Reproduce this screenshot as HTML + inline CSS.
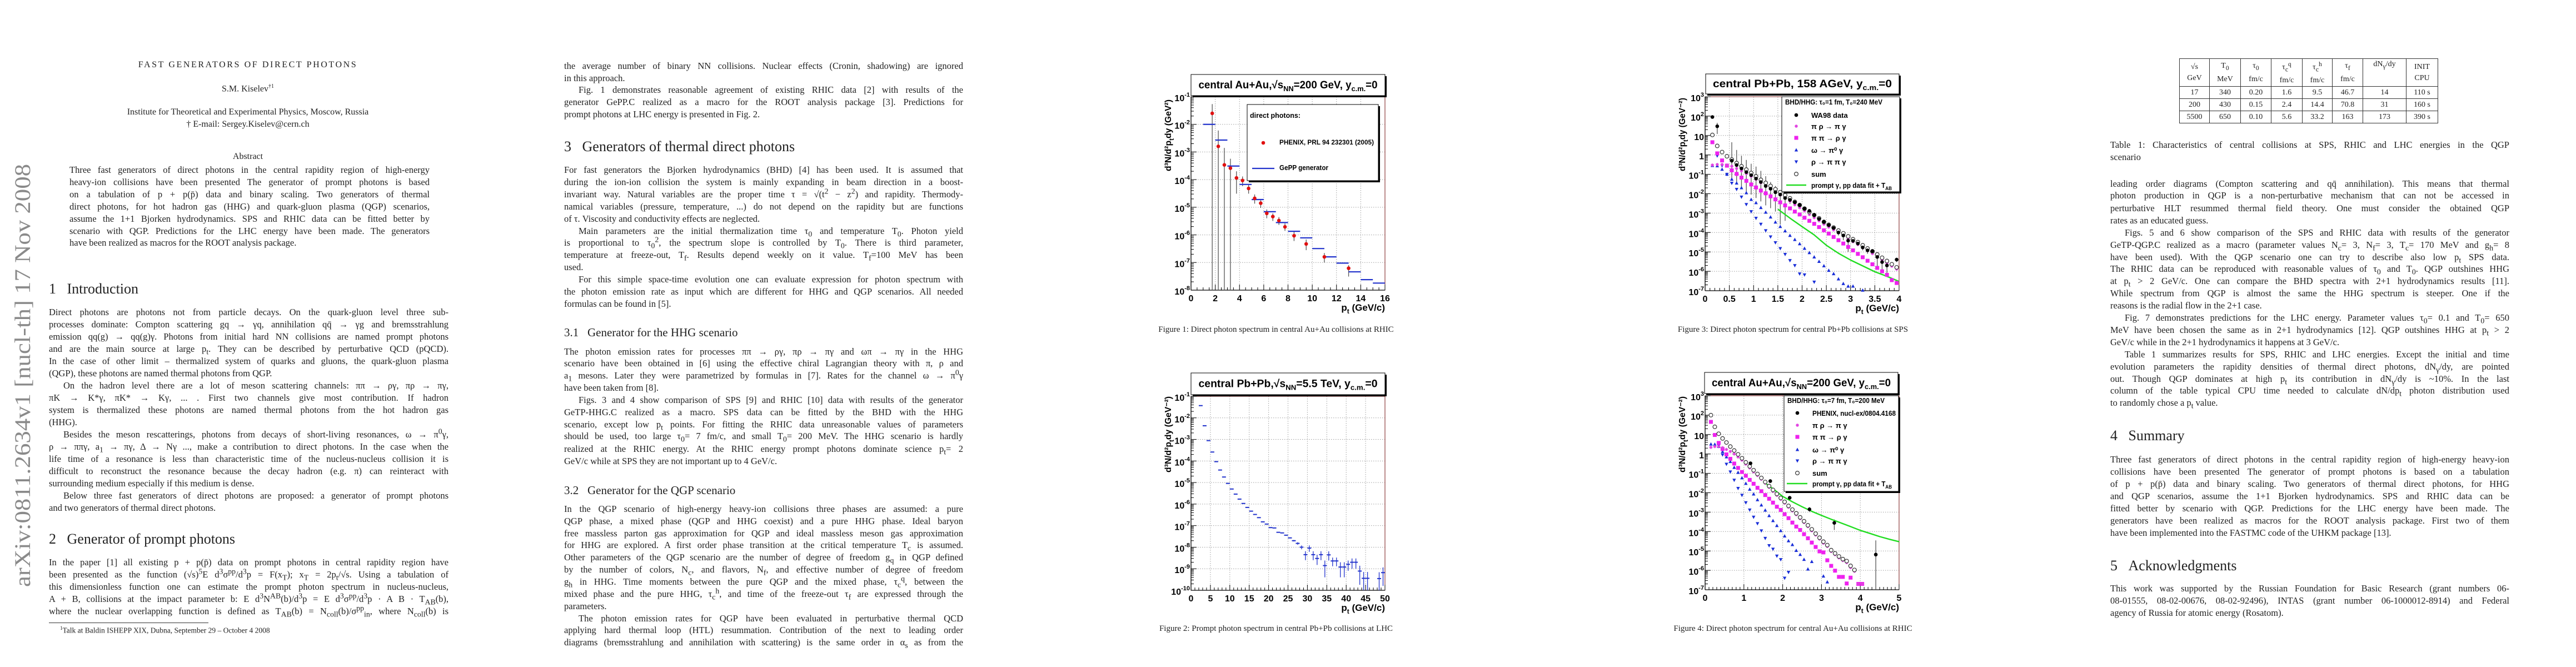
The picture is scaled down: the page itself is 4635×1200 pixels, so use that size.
<!DOCTYPE html>
<html lang="en">
<head>
<meta charset="utf-8">
<title>Fast generators of direct photons</title>
<style>
  html,body{margin:0;padding:0;background:#fff;}
  body{width:4635px;height:1200px;position:relative;overflow:hidden;font-family:"Liberation Serif",serif;color:#222;}
  .ln{position:absolute;height:22px;line-height:22px;font-size:16.5px;white-space:nowrap;text-align:justify;text-align-last:justify;overflow:visible;}
  .ln sub,.ln sup{line-height:0;}
  .e{text-align-last:left;}
  .i{text-indent:26px;}
  .p1{left:88px;width:719px;}
  .ab{left:125px;width:648px;}
  .p2{left:1015px;width:718px;}
  .p4{left:3797px;width:718px;}
  .h1{position:absolute;font-size:26px;line-height:30px;white-space:nowrap;}
  .h2{position:absolute;font-size:21px;line-height:26px;white-space:nowrap;}
  .ctr{position:absolute;text-align:center;white-space:nowrap;}
  .cap{position:absolute;font-size:15px;line-height:20px;white-space:nowrap;text-align:center;}
  table.t1{position:absolute;left:3921px;top:105px;border-collapse:collapse;font:14px "Liberation Serif",serif;}
  table.t1 td{border:1.5px solid #333;text-align:center;padding:0;height:21px;line-height:20px;}
  table.t1 tr.hd td{height:43px;line-height:20px;}
  #charts{position:absolute;left:0;top:0;}
</style>
</head>
<body>

<!-- ============ PAGE 1 ============ -->
<div class="ctr" style="left:200px;width:492px;top:108px;font-size:16px;letter-spacing:2.6px;">FAST GENERATORS OF DIRECT PHOTONS</div>
<div class="ctr" style="left:200px;width:492px;top:150px;font-size:16px;">S.M. Kiselev<sup style="font-size:10px">†1</sup></div>
<div class="ctr" style="left:200px;width:492px;top:193px;font-size:16px;">Institute for Theoretical and Experimental Physics, Moscow, Russia</div>
<div class="ctr" style="left:200px;width:492px;top:215px;font-size:16px;">† E-mail: Sergey.Kiselev@cern.ch</div>
<div class="ctr" style="left:200px;width:492px;top:273px;font-size:16px;">Abstract</div>

<div class="ln ab" style="top:295px">Three fast generators of direct photons in the central rapidity region of high-energy</div>
<div class="ln ab" style="top:317px">heavy-ion collisions have been presented The generator of prompt photons is based</div>
<div class="ln ab" style="top:339px">on a tabulation of p + p(p̄) data and binary scaling. Two generators of thermal</div>
<div class="ln ab" style="top:361px">direct photons, for hot hadron gas (HHG) and quark-gluon plasma (QGP) scenarios,</div>
<div class="ln ab" style="top:383px">assume the 1+1 Bjorken hydrodynamics. SPS and RHIC data can be fitted better by</div>
<div class="ln ab" style="top:405px">scenario with QGP. Predictions for the LHC energy have been made. The generators</div>
<div class="ln ab e" style="top:426px">have been realized as macros for the ROOT analysis package.</div>

<div class="h1" style="left:88px;top:505px">1&nbsp;&nbsp;&nbsp;Introduction</div>
<div class="ln p1" style="top:551px">Direct photons are photons not from particle decays. On the quark-gluon level three sub-</div>
<div class="ln p1" style="top:573px">processes dominate: Compton scattering gq → γq, annihilation qq̄ → γg and bremsstrahlung</div>
<div class="ln p1" style="top:595px">emission qq(g) → qq(g)γ. Photons from initial hard NN collisions are named prompt photons</div>
<div class="ln p1" style="top:617px">and are the main source at large p<sub>t</sub>. They can be described by perturbative QCD (pQCD).</div>
<div class="ln p1" style="top:639px">In the case of other limit – thermalized system of quarks and gluons, the quark-gluon plasma</div>
<div class="ln p1 e" style="top:661px">(QGP), these photons are named thermal photons from QGP.</div>
<div class="ln p1 i" style="top:683px">On the hadron level there are a lot of meson scattering channels: ππ → ργ, πρ → πγ,</div>
<div class="ln p1" style="top:705px">πK → K*γ, πK* → Kγ, ... . First two channels give most contribution. If hadron</div>
<div class="ln p1" style="top:727px">system is thermalized these photons are named thermal photons from the hot hadron gas</div>
<div class="ln p1 e" style="top:749px">(HHG).</div>
<div class="ln p1 i" style="top:771px">Besides the meson rescatterings, photons from decays of short-living resonances, ω → π<sup>0</sup>γ,</div>
<div class="ln p1" style="top:793px">ρ → ππγ, a<sub>1</sub> → πγ, Δ → Nγ ..., make a contribution to direct photons. In the case when the</div>
<div class="ln p1" style="top:815px">life time of a resonance is less than characteristic time of the nucleus-nucleus collision it is</div>
<div class="ln p1" style="top:837px">difficult to reconstruct the resonance because the decay hadron (e.g. π) can reinteract with</div>
<div class="ln p1 e" style="top:859px">surrounding medium especially if this medium is dense.</div>
<div class="ln p1 i" style="top:881px">Below three fast generators of direct photons are proposed: a generator of prompt photons</div>
<div class="ln p1 e" style="top:903px">and two generators of thermal direct photons.</div>

<div class="h1" style="left:88px;top:955px">2&nbsp;&nbsp;&nbsp;Generator of prompt photons</div>
<div class="ln p1" style="top:1001px">In the paper [1] all existing p + p(p̄) data on prompt photons in central rapidity region have</div>
<div class="ln p1" style="top:1023px">been presented as the function (√s)<sup>5</sup>E d<sup>3</sup>σ<sup>pp</sup>/d<sup>3</sup>p = F(x<sub>T</sub>); x<sub>T</sub> = 2p<sub>t</sub>/√s. Using a tabulation of</div>
<div class="ln p1" style="top:1045px">this dimensionless function one can estimate the prompt photon spectrum in nucleus-nucleus,</div>
<div class="ln p1" style="top:1067px">A + B, collisions at the impact parameter b: E d<sup>3</sup>N<sup>AB</sup>(b)/d<sup>3</sup>p = E d<sup>3</sup>σ<sup>pp</sup>/d<sup>3</sup>p · A B · T<sub>AB</sub>(b),</div>
<div class="ln p1" style="top:1089px">where the nuclear overlapping function is defined as T<sub>AB</sub>(b) = N<sub>coll</sub>(b)/σ<sup>pp</sup><sub>in</sub>, where N<sub>coll</sub>(b) is</div>
<div style="position:absolute;left:88px;top:1120px;width:287px;height:1px;background:#333;"></div>
<div style="position:absolute;left:108px;top:1125px;font-size:13.5px;white-space:nowrap;"><sup style="font-size:9px">1</sup>Talk at Baldin ISHEPP XIX, Dubna, September 29 – October 4 2008</div>

<!-- ============ PAGE 2 ============ -->
<div class="ln p2" style="top:108px">the average number of binary NN collisions. Nuclear effects (Cronin, shadowing) are ignored</div>
<div class="ln p2 e" style="top:130px">in this approach.</div>
<div class="ln p2 i" style="top:151px">Fig. 1 demonstrates reasonable agreement of existing RHIC data [2] with results of the</div>
<div class="ln p2" style="top:173px">generator GePP.C realized as a macro for the ROOT analysis package [3]. Predictions for</div>
<div class="ln p2 e" style="top:195px">prompt photons at LHC energy is presented in Fig. 2.</div>

<div class="h1" style="left:1015px;top:249px">3&nbsp;&nbsp;&nbsp;Generators of thermal direct photons</div>
<div class="ln p2" style="top:295px">For fast generators the Bjorken hydrodynamics (BHD) [4] has been used. It is assumed that</div>
<div class="ln p2" style="top:317px">during the ion-ion collision the system is mainly expanding in beam direction in a boost-</div>
<div class="ln p2" style="top:339px">invariant way. Natural variables are the proper time τ = √(t<sup>2</sup> − z<sup>2</sup>) and rapidity. Thermody-</div>
<div class="ln p2" style="top:361px">namical variables (pressure, temperature, ...) do not depend on the rapidity but are functions</div>
<div class="ln p2 e" style="top:383px">of τ. Viscosity and conductivity effects are neglected.</div>
<div class="ln p2 i" style="top:405px">Main parameters are the initial thermalization time τ<sub>0</sub> and temperature T<sub>0</sub>. Photon yield</div>
<div class="ln p2" style="top:426px">is proportional to τ<sub>0</sub><sup>2</sup>, the spectrum slope is controlled by T<sub>0</sub>. There is third parameter,</div>
<div class="ln p2" style="top:448px">temperature at freeze-out, T<sub>f</sub>. Results depend weekly on it value. T<sub>f</sub>=100 MeV has been</div>
<div class="ln p2 e" style="top:470px">used.</div>
<div class="ln p2 i" style="top:492px">For this simple space-time evolution one can evaluate expression for photon spectrum with</div>
<div class="ln p2" style="top:514px">the photon emission rate as input which are different for HHG and QGP scenarios. All needed</div>
<div class="ln p2 e" style="top:536px">formulas can be found in [5].</div>

<div class="h2" style="left:1015px;top:585px">3.1&nbsp;&nbsp;&nbsp;Generator for the HHG scenario</div>
<div class="ln p2" style="top:622px">The photon emission rates for processes ππ → ργ, πρ → πγ and ωπ → πγ in the HHG</div>
<div class="ln p2" style="top:643px">scenario have been obtained in [6] using the effective chiral Lagrangian theory with π, ρ and</div>
<div class="ln p2" style="top:665px">a<sub>1</sub> mesons. Later they were parametrized by formulas in [7]. Rates for the channel ω → π<sup>0</sup>γ</div>
<div class="ln p2 e" style="top:687px">have been taken from [8].</div>
<div class="ln p2 i" style="top:709px">Figs. 3 and 4 show comparison of SPS [9] and RHIC [10] data with results of the generator</div>
<div class="ln p2" style="top:731px">GeTP-HHG.C realized as a macro. SPS data can be fitted by the BHD with the HHG</div>
<div class="ln p2" style="top:753px">scenario, except low p<sub>t</sub> points. For fitting the RHIC data unreasonable values of parameters</div>
<div class="ln p2" style="top:774px">should be used, too large τ<sub>0</sub>= 7 fm/c, and small T<sub>0</sub>= 200 MeV. The HHG scenario is hardly</div>
<div class="ln p2" style="top:797px">realized at the RHIC energy. At the RHIC energy prompt photons dominate science p<sub>t</sub>= 2</div>
<div class="ln p2 e" style="top:819px">GeV/c while at SPS they are not important up to 4 GeV/c.</div>

<div class="h2" style="left:1015px;top:869px">3.2&nbsp;&nbsp;&nbsp;Generator for the QGP scenario</div>
<div class="ln p2" style="top:905px">In the QGP scenario of high-energy heavy-ion collisions three phases are assumed: a pure</div>
<div class="ln p2" style="top:927px">QGP phase, a mixed phase (QGP and HHG coexist) and a pure HHG phase. Ideal baryon</div>
<div class="ln p2" style="top:949px">free massless parton gas approximation for QGP and ideal massless meson gas approximation</div>
<div class="ln p2" style="top:970px">for HHG are explored. A first order phase transition at the critical temperature T<sub>c</sub> is assumed.</div>
<div class="ln p2" style="top:992px">Other parameters of the QGP scenario are the number of degree of freedom g<sub>q</sub> in QGP defined</div>
<div class="ln p2" style="top:1014px">by the number of colors, N<sub>c</sub>, and flavors, N<sub>f</sub>, and effective number of degree of freedom</div>
<div class="ln p2" style="top:1036px">g<sub>h</sub> in HHG. Time moments between the pure QGP and the mixed phase, τ<sub>c</sub><sup>q</sup>, between the</div>
<div class="ln p2" style="top:1058px">mixed phase and the pure HHG, τ<sub>c</sub><sup>h</sup>, and time of the freeze-out τ<sub>f</sub> are expressed through the</div>
<div class="ln p2 e" style="top:1080px">parameters.</div>
<div class="ln p2 i" style="top:1102px">The photon emission rates for QGP have been evaluated in perturbative thermal QCD</div>
<div class="ln p2" style="top:1123px">applying hard thermal loop (HTL) resummation. Contribution of the next to leading order</div>
<div class="ln p2" style="top:1145px">diagrams (bremsstrahlung and annihilation with scattering) is the same order in α<sub>s</sub> as from the</div>

<!-- ============ FIGURE CAPTIONS ============ -->
<div class="cap" style="left:2000px;width:592px;top:583px">Figure 1: Direct photon spectrum in central Au+Au collisions at RHIC</div>
<div class="cap" style="left:2000px;width:592px;top:1121px">Figure 2: Prompt photon spectrum in central Pb+Pb collisions at LHC</div>
<div class="cap" style="left:2930px;width:592px;top:583px">Figure 3: Direct photon spectrum for central Pb+Pb collisions at SPS</div>
<div class="cap" style="left:2930px;width:592px;top:1121px">Figure 4: Direct photon spectrum for central Au+Au collisions at RHIC</div>

<!-- ============ PAGE 4 ============ -->
<table class="t1">
  <colgroup><col style="width:54px"><col style="width:56px"><col style="width:55px"><col style="width:56px"><col style="width:54px"><col style="width:55px"><col style="width:78px"><col style="width:57px"></colgroup>
  <tr class="hd"><td>√s<br>GeV</td><td>T<sub>0</sub><br>MeV</td><td>τ<sub>0</sub><br>fm/c</td><td>τ<sub>c</sub><sup>q</sup><br>fm/c</td><td>τ<sub>c</sub><sup>h</sup><br>fm/c</td><td>τ<sub>f</sub><br>fm/c</td><td style="vertical-align:top">dN<sub>γ</sub>/dy</td><td>INIT<br>CPU</td></tr>
  <tr><td>17</td><td>340</td><td>0.20</td><td>1.6</td><td>9.5</td><td>46.7</td><td>14</td><td>110 s</td></tr>
  <tr><td>200</td><td>430</td><td>0.15</td><td>2.4</td><td>14.4</td><td>70.8</td><td>31</td><td>160 s</td></tr>
  <tr><td>5500</td><td>650</td><td>0.10</td><td>5.6</td><td>33.2</td><td>163</td><td>173</td><td>390 s</td></tr>
</table>
<div class="ln p4" style="top:250px">Table 1: Characteristics of central collisions at SPS, RHIC and LHC energies in the QGP</div>
<div class="ln p4 e" style="top:272px">scenario</div>

<div class="ln p4" style="top:320px">leading order diagrams (Compton scattering and qq̄ annihilation). This means that thermal</div>
<div class="ln p4" style="top:341px">photon production in QGP is a non-perturbative mechanism that can not be accessed in</div>
<div class="ln p4" style="top:364px">perturbative HLT resummed thermal field theory. One must consider the obtained QGP</div>
<div class="ln p4 e" style="top:386px">rates as an educated guess.</div>
<div class="ln p4 i" style="top:408px">Figs. 5 and 6 show comparison of the SPS and RHIC data with results of the generator</div>
<div class="ln p4" style="top:430px">GeTP-QGP.C realized as a macro (parameter values N<sub>c</sub>= 3, N<sub>f</sub>= 3, T<sub>c</sub>= 170 MeV and g<sub>h</sub>= 8</div>
<div class="ln p4" style="top:452px">have been used). With the QGP scenario one can try to describe also low p<sub>t</sub> SPS data.</div>
<div class="ln p4" style="top:473px">The RHIC data can be reproduced with reasonable values of τ<sub>0</sub> and T<sub>0</sub>. QGP outshines HHG</div>
<div class="ln p4" style="top:495px">at p<sub>t</sub> &gt; 2 GeV/c. One can compare the BHD spectra with 2+1 hydrodynamics results [11].</div>
<div class="ln p4" style="top:517px">While spectrum from QGP is almost the same the HHG spectrum is steeper. One if the</div>
<div class="ln p4 e" style="top:539px">reasons is the radial flow in the 2+1 case.</div>
<div class="ln p4 i" style="top:561px">Fig. 7 demonstrates predictions for the LHC energy. Parameter values τ<sub>0</sub>= 0.1 and T<sub>0</sub>= 650</div>
<div class="ln p4" style="top:583px">MeV have been chosen the same as in 2+1 hydrodynamics [12]. QGP outshines HHG at p<sub>t</sub> &gt; 2</div>
<div class="ln p4 e" style="top:605px">GeV/c while in the 2+1 hydrodynamics it happens at 3 GeV/c.</div>
<div class="ln p4 i" style="top:627px">Table 1 summarizes results for SPS, RHIC and LHC energies. Except the initial and time</div>
<div class="ln p4" style="top:649px">evolution parameters the rapidity densities of thermal direct photons, dN<sub>γ</sub>/dy, are pointed</div>
<div class="ln p4" style="top:671px">out. Though QGP dominates at high p<sub>t</sub> its contribution in dN<sub>γ</sub>/dy is ~10%. In the last</div>
<div class="ln p4" style="top:692px">column of the table typical CPU time needed to calculate dN/dp<sub>t</sub> photon distribution used</div>
<div class="ln p4 e" style="top:714px">to randomly chose a p<sub>t</sub> value.</div>

<div class="h1" style="left:3797px;top:769px">4&nbsp;&nbsp;&nbsp;Summary</div>
<div class="ln p4" style="top:816px">Three fast generators of direct photons in the central rapidity region of high-energy heavy-ion</div>
<div class="ln p4" style="top:838px">collisions have been presented The generator of prompt photons is based on a tabulation</div>
<div class="ln p4" style="top:860px">of p + p(p̄) data and binary scaling. Two generators of thermal direct photons, for HHG</div>
<div class="ln p4" style="top:882px">and QGP scenarios, assume the 1+1 Bjorken hydrodynamics. SPS and RHIC data can be</div>
<div class="ln p4" style="top:904px">fitted better by scenario with QGP. Predictions for the LHC energy have been made. The</div>
<div class="ln p4" style="top:926px">generators have been realized as macros for the ROOT analysis package. First two of them</div>
<div class="ln p4 e" style="top:948px">have been implemented into the FASTMC code of the UHKM package [13].</div>

<div class="h1" style="left:3797px;top:1003px">5&nbsp;&nbsp;&nbsp;Acknowledgments</div>
<div class="ln p4" style="top:1048px">This work was supported by the Russian Foundation for Basic Research (grant numbers 06-</div>
<div class="ln p4" style="top:1070px">08-01555, 08-02-00676, 08-02-92496), INTAS (grant number 06-1000012-8914) and Federal</div>
<div class="ln p4 e" style="top:1092px">agency of Russia for atomic energy (Rosatom).</div>

<!-- ============ CHARTS (SVG) ============ -->
<svg id="charts" width="4635" height="1200" viewBox="0 0 4635 1200" xmlns="http://www.w3.org/2000/svg">
  <text transform="translate(54,1056) rotate(-90)" font-family="Liberation Serif, serif" font-size="40" fill="#8a8a8a" textLength="761" lengthAdjust="spacingAndGlyphs">arXiv:0811.2634v1  [nucl-th]  17 Nov 2008</text>
</svg>

<script>
// ---------------- Figure 1 data (RHIC Au+Au, PHENIX vs GePP) ----------------
const f1PhenixPt  = [1.75,2.25,2.75,3.25,3.75,4.25,4.75,5.25,5.75,6.25,6.75,7.25,7.75,8.5,9.5,11,13];
const f1PhenixY   = [2.5e-2,1.6e-3,3.4e-4,2.6e-4,1.15e-4,9.3e-5,4.8e-5,2.1e-5,1.4e-5,6e-6,4.6e-6,3.3e-6,1.95e-6,9.3e-7,4.7e-7,1.6e-7,6.2e-8];
const f1PhenixHi  = [5.4e-2,6e-3,1.4e-3,5.7e-4,2e-4,1.3e-4,6.4e-5,2.9e-5,1.8e-5,8.3e-6,6e-6,4.4e-6,2.6e-6,1.3e-6,6.8e-7,2.2e-7,8e-8];
const f1PhenixLo  = [1e-9,1e-9,1e-9,1e-9,3.1e-5,5.8e-5,3.1e-5,1.35e-5,9.5e-6,4e-6,3.2e-6,2.3e-6,1.4e-6,6e-7,2.8e-7,1e-7,3.1e-8];
const f1GeppPt    = [1.5,2.5,3.5,4.5,5.5,6.5,7.5,8.5,9.5,10.5,11.5,12.5,13.5,14.5,15.5];
const f1GeppY     = [1e-2,2.7e-3,3.1e-4,6.7e-5,1.9e-5,6.9e-6,2.8e-6,1.35e-6,7.8e-7,3.2e-7,1.6e-7,9.5e-8,4.6e-8,2.4e-8,1.8e-8];
const f1XTicks    = [0,2,4,6,8,10,12,14,16];
const f1YExps     = [-8,-7,-6,-5,-4,-3,-2,-1];

// ---------------- Figure 2 data (LHC Pb+Pb prompt) ----------------
const f2Pt  = [2.5,3.5,4.5,5.5,6.5,7.5,8.5,9.5,10.5,11.5,12.5,13.5,14.5,15.5,16.5,17.5,18.5,19.5,20.5,21.5,22.5,23.5,24.5,25.5,26.5,27.5,28.5,29.5,30.5,31.5,32.5,33.5,34.5,35.5,36.5,37.5,38.5,39.5,40.5,41.5,42.5,43.5,44.5,45.5,48.5,49.5];
const f2Y   = [3.7e-2,4.3e-3,8.8e-4,2.6e-4,9.3e-5,3.8e-5,1.8e-5,9.1e-6,5e-6,2.9e-6,1.7e-6,1.07e-6,7e-7,4.7e-7,3.3e-7,2.35e-7,1.5e-7,1.18e-7,8.1e-8,7.8e-8,4.9e-8,4.6e-8,3.6e-8,2.7e-8,2e-8,1.5e-8,1e-8,4.5e-9,9.1e-9,4.5e-9,3e-9,4.5e-9,1.4e-9,4.4e-9,2.3e-9,2.3e-9,1.2e-9,1.2e-9,1.6e-9,2e-9,2e-9,7.8e-10,3.6e-10,3.6e-10,3.5e-10,6.6e-10];
const f2Err = [0,0,0,0,0,0,0,0,0,0,0,0,0,0,0,0,0,0,0,0,1e-9,1e-9,1e-9,1e-9,1.5e-9,2e-9,2e-9,2e-9,3e-9,2e-9,1.5e-9,2e-9,1e-9,2e-9,1e-9,1e-9,0.8e-9,0.8e-9,0.8e-9,1e-9,1e-9,6e-10,3.5e-10,3.5e-10,3.4e-10,5e-10];
const f2XTicks = [0,5,10,15,20,25,30,35,40,45,50];
const f2YExps  = [-10,-9,-8,-7,-6,-5,-4,-3,-2,-1];

// ---------------- Figure 3 data (SPS Pb+Pb, HHG) ----------------
const f3Pt = [0.15,0.25,0.35,0.45,0.55,0.65,0.75,0.85,0.95,1.05,1.15,1.25,1.35,1.45,1.55,1.65,1.75,1.85,1.95,2.05,2.15,2.25,2.35,2.45,2.55,2.65,2.75,2.85,2.95,3.05,3.15,3.25,3.35,3.45,3.55,3.65,3.75,3.85,3.95];
const f3Sum = [10.7,2.9,1.4,0.85,0.58,0.38,0.26,0.175,0.117,0.078,0.052,0.036,0.025,0.017,1.2e-2,8.3e-3,5.8e-3,3.8e-3,2.6e-3,1.7e-3,1.15e-3,7.9e-4,5.4e-4,3.5e-4,2.5e-4,1.8e-4,1.26e-4,9.1e-5,6.3e-5,4.5e-5,3.2e-5,2.2e-5,1.5e-5,1.07e-5,7.4e-6,5e-6,3.4e-6,2.3e-6,1.6e-6];
const f3PiRho = [0.3,0.32,0.32,0.3,0.26,0.2,0.15,0.11,0.08,0.055,0.037,0.026,0.018,0.012,8.5e-3,6e-3,4.1e-3,2.7e-3,1.9e-3,1.3e-3,8.5e-4,5.8e-4,4e-4,2.7e-4,1.9e-4,1.35e-4,9.5e-5,6.8e-5,4.7e-5,3.4e-5,2.4e-5,1.65e-5,1.15e-5,8.2e-6,5.7e-6,3.9e-6,2.7e-6,1.85e-6,1.3e-6];
const f3PiPi = [4.5,1.2,0.52,0.28,0.16,0.105,0.068,0.046,0.03,0.021,0.0145,0.0105,7.3e-3,5.1e-3,3.6e-3,2.5e-3,1.75e-3,1.2e-3,8.5e-4,5.8e-4,4e-4,2.8e-4,1.9e-4,1.3e-4,8.8e-5,5.9e-5,4e-5,2.7e-5,1.8e-5,1.2e-5,7.9e-6,5.3e-6,3.5e-6,2.3e-6,1.5e-6,1e-6,6.6e-7,3.5e-7,2.5e-7];
const f3Omega = [0.28,0.27,0.18,0.1,0.055,0.035,0.02,0.011,5e-3,3.4e-3,1.9e-3,1.1e-3,6.2e-4,3.4e-4,2e-4,1.2e-4,7e-5,4.3e-5,2.6e-5,1.5e-5,9e-6,5.4e-6,3.2e-6,1.9e-6,1.1e-6,7.4e-7,4e-7,2.3e-7,1.7e-7,1.7e-7,null,1.05e-7,null,null,null,null,null,null,null];
const f3Rho = [4.5,0.9,0.28,0.1,0.035,0.017,6.8e-3,2.8e-3,1.2e-3,5.5e-4,2.7e-4,1.25e-4,6e-5,3e-5,1.5e-5,7.5e-6,3.6e-6,2e-6,7.4e-7,6.6e-7,null,2.8e-7,null,null,null,null,null,null,null,null,null,null,null,null,null,null,null,null,null];
const f3DataPt = [0.15,0.25,0.55,0.65,0.75,0.85,0.95,1.05,1.15,1.25,1.35,1.45,1.55,1.65,1.75,1.85,1.95,2.05,2.15,2.25,2.35,2.45,2.55,2.65,2.75,2.85,2.95,3.05,3.15,3.25,3.35,3.45,3.55,3.65,3.75,3.95];
const f3DataY  = [90,30,0.5,0.3,0.2,0.13,0.09,0.06,0.04,0.025,0.018,0.012,9e-3,6e-3,4.8e-3,3.6e-3,2.6e-3,1.7e-3,1.3e-3,8e-4,5e-4,3.6e-4,2.4e-4,1.7e-4,1e-4,7e-5,3.8e-5,3.7e-5,2.7e-5,1.7e-5,1.2e-5,1.1e-5,5.5e-6,3e-6,2e-6,4e-6];
const f3DataHi = [110,45,4.5,1.8,0.9,0.55,0.35,0.25,0.15,0.08,0.04,0.025,1.2e-2,8e-3,6e-3,4.6e-3,3.3e-3,2.2e-3,1.6e-3,1e-3,6.5e-4,4.6e-4,3e-4,2.2e-4,1.3e-4,9e-5,5e-5,4.7e-5,3.4e-5,2.2e-5,1.5e-5,1.4e-5,7.5e-6,4e-6,4e-6,5e-6];
const f3DataLo = [75,12,0.05,0.03,0.02,0.013,0.009,0.006,0.004,0.0025,0.0018,0.0012,2.6e-4,4e-4,3e-3,2.5e-3,1.9e-3,1.2e-3,9e-4,6e-4,3.8e-4,2.7e-4,1.8e-4,1.2e-4,7e-5,4e-5,1e-5,2.8e-5,2e-5,1.2e-5,8e-6,8e-6,1.5e-6,1.2e-6,5e-7,3e-6];
const f3PromptPt = [1.5,1.75,2,2.25,2.5,2.75,3,3.25,3.5,3.75,4];
const f3PromptY  = [1.6e-3,5.5e-4,2e-4,7.5e-5,2.2e-5,8.5e-6,3.8e-6,1.9e-6,9.5e-7,5.5e-7,3e-7];
const f3XTicks = [0,0.5,1,1.5,2,2.5,3,3.5,4];
const f3XLabels = ['0','0.5','1','1.5','2','2.5','3','3.5','4'];
const f3YExps  = [-7,-6,-5,-4,-3,-2,-1,0,1,2,3];

// ---------------- Figure 4 data (RHIC Au+Au, HHG) ----------------
const f4Pt = [0.15,0.25,0.35,0.45,0.55,0.65,0.75,0.85,0.95,1.05,1.15,1.25,1.35,1.45,1.55,1.65,1.75,1.85,1.95,2.05,2.15,2.25,2.35,2.45,2.55,2.65,2.75,2.85,2.95,3.05,3.15,3.25,3.35,3.45,3.55,3.65,3.75,3.85,3.95,4.05];
const f4Sum = [100,25,11,6.3,3.9,2.4,1.5,0.95,0.6,0.37,0.23,0.145,0.093,0.058,0.036,0.022,0.014,8.7e-3,5.4e-3,3.4e-3,2.1e-3,1.35e-3,8.7e-4,5.4e-4,3.4e-4,2.1e-4,1.3e-4,7.8e-5,4.8e-5,3e-5,2e-5,1.1e-5,7.5e-6,5.2e-6,3.8e-6,3e-6,1.7e-6,1.05e-6,null,null];
const f4PiRho = [2.2,2.4,2.4,2.1,1.7,1.35,1.0,0.7,0.48,0.3,0.19,0.12,0.078,0.05,0.031,0.019,0.012,7.4e-3,4.6e-3,2.9e-3,1.8e-3,1.15e-3,7.4e-4,4.6e-4,2.9e-4,1.8e-4,1.1e-4,6.6e-5,4.1e-5,2.5e-5,1.7e-5,9.4e-6,6.4e-6,4.4e-6,3.2e-6,2.5e-6,1.4e-6,9e-7,2e-7,2e-7];
const f4PiPi = [45,9.5,3.7,1.8,0.95,0.56,0.32,0.19,0.117,0.075,0.046,0.029,0.018,0.012,7.6e-3,4.9e-3,3.1e-3,1.9e-3,1.3e-3,7.8e-4,4.9e-4,2.9e-4,1.8e-4,1.2e-4,7.3e-5,4.5e-5,2.7e-5,1.6e-5,9.5e-6,8.4e-6,3.3e-6,1.7e-6,9.6e-7,4.6e-7,4.6e-7,2.1e-7,4.2e-7,null,2e-7,2e-7];
const f4Omega = [3.2,3.1,2.4,1.3,0.7,0.4,0.2,0.11,0.058,0.03,0.015,8.5e-3,4.3e-3,2.3e-3,1.25e-3,6.5e-4,3.6e-4,2e-4,1.1e-4,5.8e-5,3.3e-5,2.1e-5,1.05e-5,6.5e-6,3.6e-6,1.15e-6,2.8e-6,null,null,5e-7,2.5e-7,null,null,null,null,null,null,null,null,null];
const f4Rho = [45,9.5,2.7,0.9,0.3,0.12,0.045,0.017,7.5e-3,3.1e-3,1.3e-3,5.6e-4,2.6e-4,1.1e-4,4.5e-5,1.9e-5,1.25e-5,5.5e-6,3.6e-6,4e-7,8e-7,null,null,null,null,null,null,null,null,null,null,null,null,null,null,null,null,null,null,null];
const f4DataPt = [1.17,1.68,2.18,2.69,3.33,4.4];
const f4DataY  = [0.33,0.04,5.5e-3,1.4e-3,2.8e-4,6.5e-6];
const f4DataHi = [0.4,0.05,6.8e-3,1.8e-3,4.2e-4,3.5e-5];
const f4DataLo = [0.27,0.032,4.4e-3,1.05e-3,1.2e-4,1e-9];
const f4PromptPt = [1.5,1.75,2,2.25,2.5,2.75,3,3.25,3.5,3.75,4,4.25,4.5,4.75,5];
const f4PromptY  = [0.037,0.016,6.5e-3,3.4e-3,1.9e-3,1.1e-3,6.8e-4,4.3e-4,2.8e-4,1.8e-4,1.15e-4,8e-5,5.5e-5,4e-5,3e-5];
const f4XTicks = [0,1,2,3,4,5];
const f4YExps  = [-7,-6,-5,-4,-3,-2,-1,0,1,2,3];

// ---------------- drawing ----------------
const NS = 'http://www.w3.org/2000/svg';
const root = document.getElementById('charts');
const SANS = 'Liberation Sans, sans-serif';

function add(parent, tag, attrs) {
  const el = document.createElementNS(NS, tag);
  for (const k in attrs) el.setAttribute(k, attrs[k]);
  parent.appendChild(el);
  return el;
}

const C1 = {x0:2143, x1:2492, y0:174, y1:522, xmin:0, xmax:16, lmin:-8, lmax:-1, xminor:0.5};
const C2 = {x0:2143, x1:2492, y0:713, y1:1062, xmin:0, xmax:50, lmin:-10, lmax:-1, xminor:1};
const C3 = {x0:3068, x1:3417, y0:174, y1:523, xmin:0, xmax:4, lmin:-7, lmax:3, xminor:0.1};
const C4 = {x0:3068, x1:3417, y0:712, y1:1061, xmin:0, xmax:5, lmin:-7, lmax:3, xminor:0.1};

function X(c, v) { return c.x0 + (v - c.xmin) / (c.xmax - c.xmin) * (c.x1 - c.x0); }
function Y(c, v) {
  let l = Math.log10(v);
  if (l < c.lmin) l = c.lmin;
  if (l > c.lmax) l = c.lmax;
  return c.y1 - (l - c.lmin) / (c.lmax - c.lmin) * (c.y1 - c.y0);
}
function inRange(c, v) { return v !== null && v > 0 && Math.log10(v) >= c.lmin - 1e-9 && Math.log10(v) <= c.lmax; }

function drawFrame(c, g, xTicks, xLabels, yExps, oneTen) {
  const bg = add(g, 'rect', {x:c.x0, y:c.y0, width:c.x1-c.x0, height:c.y1-c.y0, fill:'#fff'});
  
  
  xTicks.forEach(function (t) {
    const gl = add(g, 'line', {x1:X(c,t), x2:X(c,t), y1:c.y0, y2:c.y1, stroke:'#9a9a9a', 'stroke-width':1, 'stroke-dasharray':'1.5,2.5'});
    
    
  });
  yExps.forEach(function (e) {
    const yy = Y(c, Math.pow(10, e));
    const gl = add(g, 'line', {x1:c.x0, x2:c.x1, y1:yy, y2:yy, stroke:'#9a9a9a', 'stroke-width':1, 'stroke-dasharray':'1.5,2.5'});
    
    
  });
  const fr = add(g, 'rect', {x:c.x0, y:c.y0, width:c.x1-c.x0, height:c.y1-c.y0, fill:'none', stroke:'#7a1a1a', 'stroke-width':1});
  
  
  const ax = add(g, 'line', {x1:c.x0, x2:c.x1, y1:c.y1, y2:c.y1, stroke:'#000', 'stroke-width':1.3});
  
  
  const ay = add(g, 'line', {x1:c.x0, x2:c.x0, y1:c.y0, y2:c.y1, stroke:'#000', 'stroke-width':1.3});
  
  
  let d = '';
  const nMinor = Math.round((c.xmax - c.xmin) / c.xminor);
  for (let i = 0; i <= nMinor; i++) {
    const v = c.xmin + i * c.xminor;
    const major = xTicks.some(function (t) { return Math.abs(t - v) < 1e-6; });
    const xx = X(c, v);
    d += 'M' + xx + ' ' + c.y1 + 'V' + (c.y1 - (major ? 10 : 5));
  }
  for (let e = c.lmin; e < c.lmax; e++) {
    for (let m = 1; m <= 9; m++) {
      const yy = Y(c, m * Math.pow(10, e));
      d += 'M' + c.x0 + ' ' + yy + 'H' + (c.x0 + (m === 1 ? 10 : 5));
    }
  }
  d += 'M' + c.x0 + ' ' + c.y0 + 'H' + (c.x0 + 10);
  const tk = add(g, 'path', {d:d, stroke:'#000', 'stroke-width':1, fill:'none'});
  
  
  xTicks.forEach(function (t, i) {
    const tx = add(g, 'text', {x:X(c,t), y:c.y1 + 20, 'font-family':SANS, 'font-size':16, 'font-weight':'bold', 'text-anchor':'middle', fill:'#000'});
    tx.textContent = xLabels ? xLabels[i] : String(t);
    
    
  });
  yExps.forEach(function (e) {
    const yy = Y(c, Math.pow(10, e));
    const tx = add(g, 'text', {x:c.x0 - 2, y:yy + 8, 'font-family':SANS, 'font-size':16, 'font-weight':'bold', 'text-anchor':'end', fill:'#000'});
    
    
    if (oneTen && e === 0) { tx.textContent = '1'; return; }
    if (oneTen && e === 1) { tx.textContent = '10'; return; }
    const base = add(tx, 'tspan', {});
    base.textContent = '10';
    const sup = add(tx, 'tspan', {dy:-8, 'font-size':11});
    sup.textContent = String(e);
  });
}

function drawTitle(g, x0, y0, x1, y1, parts, len) {
  const sh = add(g, 'rect', {x:x0 + 3, y:y0 + 3, width:x1 - x0, height:y1 - y0, fill:'#000'});
  
  
  const bx = add(g, 'rect', {x:x0, y:y0, width:x1 - x0, height:y1 - y0, fill:'#fff', stroke:'#000', 'stroke-width':1});
  
  
  const cx = (x0 + x1) / 2;
  const tx = add(g, 'text', {x:cx, y:y0 + (y1 - y0) / 2 + 6, 'font-family':SANS, 'font-size':19, 'font-weight':'bold', 'text-anchor':'middle', fill:'#000', textLength:len, lengthAdjust:'spacingAndGlyphs'});
  
  
  parts.forEach(function (p) {
    const ts = add(tx, 'tspan', p[1] === 'sub' ? {dy:5, 'font-size':13} : (p[1] === 'up' ? {dy:-5} : {}));
    ts.textContent = p[0];
  });
}

function drawAxisTitles(c, g, yTitleTop, yTitleLen, yUnit) {
  const xt = add(g, 'text', {x:c.x1, y:c.y1 + 37, 'font-family':SANS, 'font-size':17, 'font-weight':'bold', 'text-anchor':'end', fill:'#000'});
  
  
  const a = add(xt, 'tspan', {}); a.textContent = 'p';
  const b = add(xt, 'tspan', {dy:5, 'font-size':12}); b.textContent = 't';
  const cc = add(xt, 'tspan', {dy:-5}); cc.textContent = ' (GeV/c)';
  const yx = c.x0 - 36;
  const yt = add(g, 'text', {x:0, y:0, transform:'translate(' + yx + ',' + yTitleTop + ') rotate(-90)', 'font-family':SANS, 'font-size':16, 'font-weight':'bold', 'text-anchor':'end', fill:'#000', textLength:yTitleLen, lengthAdjust:'spacingAndGlyphs'});
  
  
  const p1 = add(yt, 'tspan', {}); p1.textContent = 'd³N/d²p';
  const p2 = add(yt, 'tspan', {dy:5, 'font-size':12}); p2.textContent = 't';
  const p3 = add(yt, 'tspan', {dy:-5}); p3.textContent = 'dy (' + yUnit + ')';
}

function marker(g, type, x, y, name) {
  let el;
  if (type === 'red') {
    el = add(g, 'circle', {cx:x, cy:y, r:3.3, fill:'#e01010'});
  } else if (type === 'black') {
    el = add(g, 'circle', {cx:x, cy:y, r:3.3, fill:'#000'});
  } else if (type === 'open') {
    el = add(g, 'circle', {cx:x, cy:y, r:3.4, fill:'#fff', stroke:'#333', 'stroke-width':1.2});
  } else if (type === 'square') {
    el = add(g, 'rect', {x:x - 3.5, y:y - 3.5, width:7, height:7, fill:'#ee22ee'});
  } else if (type === 'star') {
    el = add(g, 'path', {d:'M' + (x - 3) + ' ' + y + 'H' + (x + 3) + 'M' + x + ' ' + (y - 3) + 'V' + (y + 3) + 'M' + (x - 2) + ' ' + (y - 2) + 'L' + (x + 2) + ' ' + (y + 2) + 'M' + (x - 2) + ' ' + (y + 2) + 'L' + (x + 2) + ' ' + (y - 2), stroke:'#e040e0', 'stroke-width':1.3, fill:'none'});
  } else if (type === 'tri') {
    el = add(g, 'path', {d:'M' + x + ' ' + (y - 3.5) + 'L' + (x + 3.2) + ' ' + (y + 2.5) + 'L' + (x - 3.2) + ' ' + (y + 2.5) + 'Z', fill:'#1a2fd8'});
  } else {
    el = add(g, 'path', {d:'M' + x + ' ' + (y + 3.5) + 'L' + (x + 3.2) + ' ' + (y - 2.5) + 'L' + (x - 3.2) + ' ' + (y - 2.5) + 'Z', fill:'#1a2fd8'});
  }
  
  
  return el;
}

function errBar(g, c, x, lo, hi, color, name) {
  const l = add(g, 'line', {x1:x, x2:x, y1:Y(c, hi), y2:Y(c, lo), stroke:color, 'stroke-width':1.3});
  
  
}

function series(g, c, xs, ys, type, name) {
  xs.forEach(function (p, i) {
    const v = ys[i];
    if (!inRange(c, v)) return;
    marker(g, type, X(c, p), Y(c, v), name);
  });
}

function curve(g, c, xs, ys, name) {
  let d = '';
  xs.forEach(function (p, i) { d += (i ? 'L' : 'M') + X(c, p) + ' ' + Y(c, ys[i]); });
  const pl = add(g, 'path', {d:d, stroke:'#22dd22', 'stroke-width':2.4, fill:'none', 'stroke-linejoin':'round'});
  
  
}

function legendBox(g, x0, y0, x1, y1) {
  const sh = add(g, 'rect', {x:x0 + 3, y:y0 + 3, width:x1 - x0, height:y1 - y0, fill:'#000'});
  
  
  const bx = add(g, 'rect', {x:x0, y:y0, width:x1 - x0, height:y1 - y0, fill:'#fff', stroke:'#000', 'stroke-width':1});
  
  
}
function legendText(g, x, y, str, name, size, len) {
  const attrs = {x:x, y:y + 5, 'font-family':SANS, 'font-size':size || 13, 'font-weight':'bold', fill:'#000'};
  if (len) { attrs.textLength = len; attrs.lengthAdjust = 'spacingAndGlyphs'; }
  const t = add(g, 'text', attrs);
  
  
  if (str.indexOf('T_AB') >= 0) {
    const a = add(t, 'tspan', {}); a.textContent = str.replace('T_AB', 'T');
    const b = add(t, 'tspan', {dy:4, 'font-size':9}); b.textContent = 'AB';
  } else {
    t.textContent = str;
  }
  return t;
}

// ===== Figure 1 =====
(function () {
  const g = add(root, 'g', {});
  
  
  drawFrame(C1, g, f1XTicks, null, f1YExps, false);
  drawTitle(g, 2143, 134, 2492, 172, [['central Au+Au,√s'], ['NN', 'sub'], ['=200 GeV, y', 'up'], ['c.m.', 'sub'], ['=0', 'up']], 322);
  drawAxisTitles(C1, g, 179, 129, 'GeV²');
  f1PhenixPt.forEach(function (p, i) {
    errBar(g, C1, X(C1, p), f1PhenixLo[i], f1PhenixHi[i], '#555', 'phenix-error-bar');
  });
  f1GeppPt.forEach(function (p, i) {
    const yy = Y(C1, f1GeppY[i]);
    const l = add(g, 'line', {x1:X(C1, p - 0.5), x2:X(C1, p + 0.5), y1:yy, y2:yy, stroke:'#2233cc', 'stroke-width':2.2});
    
    
  });
  series(g, C1, f1PhenixPt, f1PhenixY, 'red', 'phenix-point');
  legendBox(g, 2244, 188, 2480, 325);
  legendText(g, 2249, 207, 'direct photons:', 'legend-header', 12.5);
  marker(g, 'red', 2273, 257, 'legend-marker-phenix');
  legendText(g, 2302, 255, 'PHENIX, PRL 94 232301 (2005)', 'legend-entry-phenix', 12, 170);
  const ll = add(g, 'line', {x1:2253, x2:2293, y1:303, y2:303, stroke:'#2233cc', 'stroke-width':2.2});
  
  
  legendText(g, 2302, 301, 'GePP generator', 'legend-entry-gepp', 12.5, 88);
})();

// ===== Figure 2 =====
(function () {
  const g = add(root, 'g', {});
  
  
  drawFrame(C2, g, f2XTicks, null, f2YExps, false);
  drawTitle(g, 2143, 671, 2492, 710, [['central Pb+Pb,√s'], ['NN', 'sub'], ['=5.5 TeV, y', 'up'], ['c.m.', 'sub'], ['=0', 'up']], 322);
  drawAxisTitles(C2, g, 713, 137, 'GeV⁻²');
  f2Pt.forEach(function (p, i) {
    const v = f2Y[i];
    const yy = Y(C2, v);
    const l = add(g, 'line', {x1:X(C2, p - 0.5), x2:X(C2, p + 0.5), y1:yy, y2:yy, stroke:'#2233cc', 'stroke-width':2});
    
    
    if (f2Err[i] > 0) {
      errBar(g, C2, X(C2, p), Math.max(v - f2Err[i], 1e-11), v + f2Err[i], '#2233cc', 'lhc-prompt-error-bar');
    }
  });
})();

// ===== Figure 3 =====
(function () {
  const g = add(root, 'g', {});
  
  
  drawFrame(C3, g, f3XTicks, f3XLabels, f3YExps, true);
  drawTitle(g, 3069, 133, 3417, 169, [['central Pb+Pb, 158 AGeV, y'], ['c.m.', 'sub'], ['=0', 'up']], 322);
  drawAxisTitles(C3, g, 176, 132, 'GeV⁻²');
  f3DataPt.forEach(function (p, i) {
    errBar(g, C3, X(C3, p), f3DataLo[i], f3DataHi[i], '#555', 'wa98-error-bar');
  });
  curve(g, C3, f3PromptPt, f3PromptY, 'prompt-curve');
  series(g, C3, f3Pt, f3Rho, 'tridn', 'rho-pipi-gamma-point');
  series(g, C3, f3Pt, f3Omega, 'tri', 'omega-pi0-gamma-point');
  series(g, C3, f3Pt, f3PiPi, 'square', 'pipi-rho-gamma-point');
  series(g, C3, f3Pt, f3PiRho, 'star', 'pirho-pi-gamma-point');
  series(g, C3, f3Pt, f3Sum, 'open', 'sum-point');
  series(g, C3, f3DataPt, f3DataY, 'black', 'wa98-point');
  legendBox(g, 3206, 174, 3418, 345);
  legendText(g, 3212, 183, 'BHD/HHG: τ₀=1 fm, T₀=240 MeV', 'legend-header', 12.5, 175);
  const ly = [207, 227, 248, 270, 291, 313, 333];
  const lt = ['WA98 data', 'π ρ → π γ', 'π π → ρ γ', 'ω → π⁰ γ', 'ρ → π π γ', 'sum', 'prompt γ, pp data fit + T_AB'];
  const lm = ['black', 'star', 'square', 'tri', 'tridn', 'open'];
  lm.forEach(function (m, i) { marker(g, m, 3232, ly[i], 'legend-marker'); });
  const gl = add(g, 'line', {x1:3214, x2:3250, y1:ly[6], y2:ly[6], stroke:'#22dd22', 'stroke-width':2.4});
  
  
  lt.forEach(function (s, i) { legendText(g, 3259, ly[i], s, 'legend-entry', 13, i === 6 ? 145 : null); });
})();

// ===== Figure 4 =====
(function () {
  const g = add(root, 'g', {});
  
  
  drawFrame(C4, g, f4XTicks, null, f4YExps, true);
  drawTitle(g, 3067, 670, 3415, 708, [['central Au+Au,√s'], ['NN', 'sub'], ['=200 GeV, y', 'up'], ['c.m.', 'sub'], ['=0', 'up']], 322);
  drawAxisTitles(C4, g, 713, 137, 'GeV⁻²');
  f4DataPt.forEach(function (p, i) {
    errBar(g, C4, X(C4, p), f4DataLo[i], f4DataHi[i], '#555', 'phenix-error-bar');
  });
  curve(g, C4, f4PromptPt, f4PromptY, 'prompt-curve');
  series(g, C4, f4Pt, f4Rho, 'tridn', 'rho-pipi-gamma-point');
  series(g, C4, f4Pt, f4Omega, 'tri', 'omega-pi0-gamma-point');
  series(g, C4, f4Pt, f4PiPi, 'square', 'pipi-rho-gamma-point');
  series(g, C4, f4Pt, f4PiRho, 'star', 'pirho-pi-gamma-point');
  series(g, C4, f4Pt, f4Sum, 'open', 'sum-point');
  series(g, C4, f4DataPt, f4DataY, 'black', 'phenix-point');
  legendBox(g, 3210, 712, 3416, 884);
  legendText(g, 3216, 720, 'BHD/HHG: τ₀=7 fm, T₀=200 MeV', 'legend-header', 12.5, 175);
  const ly = [743, 765, 786, 809, 829, 851, 870];
  const lt = ['PHENIX, nucl-ex/0804.4168', 'π ρ → π γ', 'π π → ρ γ', 'ω → π⁰ γ', 'ρ → π π γ', 'sum', 'prompt γ, pp data fit + T_AB'];
  const lm = ['black', 'star', 'square', 'tri', 'tridn', 'open'];
  lm.forEach(function (m, i) { marker(g, m, 3234, ly[i], 'legend-marker'); });
  const gl = add(g, 'line', {x1:3215, x2:3252, y1:ly[6], y2:ly[6], stroke:'#22dd22', 'stroke-width':2.4});
  
  
  lt.forEach(function (s, i) { legendText(g, 3261, ly[i], s, 'legend-entry', 13, i === 0 ? 150 : (i === 6 ? 143 : null)); });
})();
</script>
</body>
</html>
